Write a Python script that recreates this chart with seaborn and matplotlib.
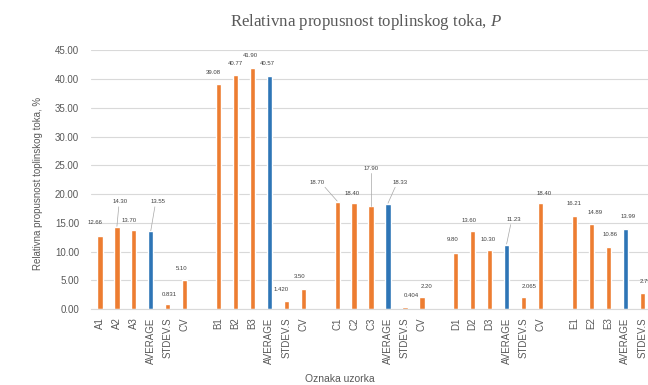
import matplotlib
matplotlib.use("Agg")
import matplotlib.pyplot as plt
import pandas as pd
import seaborn as sns

# Measured relative heat-flux transmittance per sample group
groups = ["A", "B", "C", "D", "E"]
columns = ["1", "2", "3", "AVERAGE", "STDEV.S", "CV"]
a_vals = [12.66, 14.30, 13.70, 13.55, 0.831, 5.10]
b_vals = [39.08, 40.77, 41.90, 40.57, 1.420, 3.50]
c_vals = [18.70, 18.40, 17.90, 18.33, 0.404, 2.20]
d_vals = [9.80, 13.60, 10.30, 11.23, 2.065, 18.40]
e_vals = [16.21, 14.89, 10.86, 13.99, 2.790, 19.94]
all_vals = [a_vals, b_vals, c_vals, d_vals, e_vals]

title = "Relativna propusnost toplinskog toka, $P$"
y_label = "Relativna propusnost toplinskog toka, %"
x_label = "Oznaka uzorka"
y_ticks = [0, 5, 10, 15, 20, 25, 30, 35, 40, 45]

ORANGE = "#ED7D31"
BLUE = "#2E75B6"
GRID = "#D9D9D9"
TEXT = "#595959"
LABEL = "#404040"

# Label placement (offset in category units, label centre height) and leader lines
label_place = {
    ("A", 0): (-0.30, 15.0, False), ("A", 1): (0.18, 18.7, True),
    ("A", 2): (-0.30, 15.5, False), ("A", 3): (0.40, 18.7, True),
    ("A", 4): (0.10, 2.6, False), ("A", 5): (-0.16, 7.1, False),
    ("B", 0): (-0.30, 41.2, False), ("B", 1): (-0.03, 42.7, False),
    ("B", 2): (-0.15, 44.2, False), ("B", 3): (-0.10, 42.7, False),
    ("B", 4): (-0.30, 3.4, False), ("B", 5): (-0.20, 5.6, False),
    ("C", 0): (-1.20, 22.1, True), ("C", 1): (-0.14, 20.1, False),
    ("C", 2): (0.00, 24.5, True), ("C", 3): (0.70, 22.1, True),
    ("C", 4): (0.40, 2.4, False), ("C", 5): (0.28, 4.0, False),
    ("D", 0): (-0.20, 12.1, False), ("D", 1): (-0.20, 15.5, False),
    ("D", 2): (-0.10, 12.1, False), ("D", 3): (0.40, 15.6, True),
    ("D", 4): (0.30, 4.0, False), ("D", 5): (0.20, 20.2, False),
    ("E", 0): (0.00, 18.4, False), ("E", 1): (0.20, 16.8, False),
    ("E", 2): (0.10, 12.9, False), ("E", 3): (0.20, 16.1, False),
    ("E", 4): (0.30, 4.75, False), ("E", 5): (0.20, 21.5, False),
}

rows = []
order = []
tick_labels = []
for gi, (g, vals) in enumerate(zip(groups, all_vals)):
    for ci, (col, v) in enumerate(zip(columns, vals)):
        key = f"{g}-{col}"
        name = f"{g}{col}" if ci < 3 else col
        kind = "avg" if col == "AVERAGE" else "other"
        txt = f"{v:.3f}" if col == "STDEV.S" else f"{v:.2f}"
        rows.append({"key": key, "value": v, "kind": kind, "text": txt,
                     "group": g, "col": ci})
        order.append(key)
        tick_labels.append(name)
    if gi < len(groups) - 1:
        order.append(f"gap-{g}")
        tick_labels.append("")
df = pd.DataFrame(rows)

sns.set_theme(style="white")
plt.rcParams["font.family"] = ["Liberation Sans", "DejaVu Sans"]
plt.rcParams["mathtext.fontset"] = "custom"
plt.rcParams["mathtext.rm"] = "Liberation Serif"
plt.rcParams["mathtext.it"] = "Liberation Serif:italic"

fig = plt.figure(figsize=(6.48, 3.85), dpi=100)
ax = fig.add_axes([0.1412, 0.197, 0.889, 0.672])

sns.barplot(data=df, x="key", y="value", hue="kind", order=order,
            palette={"avg": BLUE, "other": ORANGE}, dodge=False,
            width=0.31, saturation=1, legend=False, ax=ax)

ax.set_xlim(-0.5, len(order) - 0.5)
ax.set_ylim(0, 45)
ax.set_yticks(y_ticks)
ax.set_yticklabels([f"{t:.2f}" for t in y_ticks])
ax.set_xticks(range(len(order)))
ax.set_xticklabels(tick_labels, rotation=90)
ax.tick_params(axis="both", length=0, labelsize=7, colors=TEXT)
ax.tick_params(axis="y", pad=9)
ax.tick_params(axis="x", pad=6)
ax.set_xlabel("")
ax.set_ylabel("")

ax.yaxis.grid(True, color=GRID, linewidth=0.8)
ax.set_axisbelow(True)
for side in ["top", "right", "left"]:
    ax.spines[side].set_visible(False)
ax.spines["bottom"].set_color(GRID)
ax.spines["bottom"].set_linewidth(0.8)

# Data labels with leader lines where labels are moved away from the bar
pos = {k: i for i, k in enumerate(order)}
for _, r in df.iterrows():
    x = pos[r["key"]]
    dx, ly, leader = label_place[(r["group"], r["col"])]
    ax.text(x + dx, ly, r["text"], ha="center", va="center",
            fontsize=4.3, color=LABEL, clip_on=False)
    if leader:
        ax.plot([x + dx * 0.6, x], [ly - 0.9, r["value"] + 0.1],
                color="#A6A6A6", linewidth=0.5)

fig.text(366 / 648, 1 - 22 / 385, title, ha="center", va="center",
         fontsize=12.2, color=TEXT, family=["Liberation Serif"])
fig.text(38 / 648, 1 - 183 / 385, y_label, rotation=90, ha="center",
         va="center", fontsize=7, color=TEXT)
fig.text(340 / 648, 1 - 379 / 385, x_label, ha="center", va="center",
         fontsize=7.5, color=TEXT)

fig.savefig("out.png", dpi=100)
